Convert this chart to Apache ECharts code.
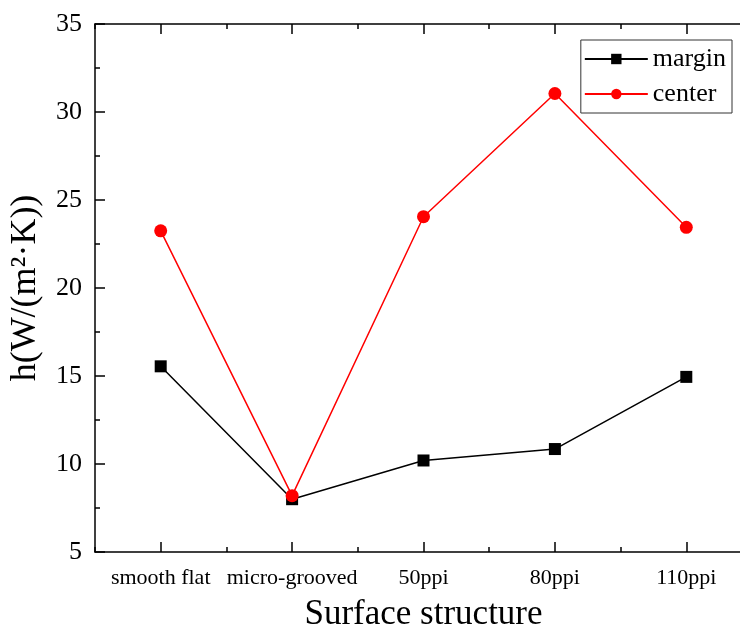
<!DOCTYPE html>
<html>
<head>
<meta charset="utf-8">
<script src="https://cdn.jsdelivr.net/npm/echarts@6/dist/echarts.min.js"></script>
<style>
  html, body { margin: 0; padding: 0; background: #fff; }
  #chart { width: 740px; height: 632px; }
</style>
</head>
<body>
<div id="chart"></div>
<script>
var categories = ["smooth flat", "micro-grooved", "50ppi", "80ppi", "110ppi"];
var marginValues = [15.55, 8.0, 10.2, 10.85, 14.95];
var centerValues = [23.25, 8.2, 24.05, 31.05, 23.45];
var yTicks = { min: 5, max: 35, interval: 5 };

var serif = "Liberation Serif";
var myChart = echarts.init(document.getElementById("chart"));

function catAxis(pos, major, showLabel) {
  return {
    type: "category",
    data: categories,
    position: pos,
    boundaryGap: true,
    axisLine: { show: major, lineStyle: { color: "#000", width: 1.5 } },
    axisTick: {
      show: true,
      inside: true,
      alignWithLabel: major,
      interval: 0,
      length: major ? 10 : 5,
      lineStyle: { color: "#000", width: 1.5 }
    },
    axisLabel: {
      show: showLabel,
      interval: 0,
      color: "#000",
      fontFamily: serif,
      fontSize: 22,
      margin: 15
    },
    splitLine: { show: false }
  };
}

var bottomMain = catAxis("bottom", true, true);
bottomMain.name = "Surface structure";
bottomMain.nameLocation = "middle";
bottomMain.nameGap = 45;
bottomMain.nameTextStyle = { color: "#000", fontFamily: serif, fontSize: 35 };

myChart.setOption({
  backgroundColor: "#fff",
  animation: false,
  grid: { left: 95, top: 24, bottom: 80, right: -12, outerBoundsMode: "none", containLabel: false },
  legend: {
    right: 8,
    top: 40,
    orient: "vertical",
    borderColor: "#333",
    borderWidth: 1,
    borderRadius: 0,
    padding: [6, 6, 6, 3],
    itemGap: 9,
    itemWidth: 63,
    itemHeight: 13,
    textStyle: { color: "#000", fontFamily: serif, fontSize: 26 },
    data: ["margin", "center"]
  },
  xAxis: [
    bottomMain,
    catAxis("bottom", false, false),
    catAxis("top", true, false),
    catAxis("top", false, false)
  ],
  yAxis: {
    type: "value",
    min: yTicks.min,
    max: yTicks.max,
    interval: yTicks.interval,
    name: "h(W/(m²·K))",
    nameLocation: "middle",
    nameGap: 51,
    nameTextStyle: { color: "#000", fontFamily: serif, fontSize: 36 },
    axisLine: { show: true, lineStyle: { color: "#000", width: 1.5 } },
    axisTick: { show: true, inside: true, length: 10, lineStyle: { color: "#000", width: 1.5 } },
    minorTick: { show: true, splitNumber: 2, length: 5, lineStyle: { color: "#000", width: 1.5 } },
    axisLabel: { color: "#000", fontFamily: serif, fontSize: 26, margin: 13 },
    splitLine: { show: false }
  },
  series: [
    {
      name: "margin",
      type: "line",
      xAxisIndex: 0,
      data: marginValues,
      symbol: "rect",
      symbolSize: 12,
      lineStyle: { color: "#000", width: 1.5 },
      itemStyle: { color: "#000" }
    },
    {
      name: "center",
      type: "line",
      xAxisIndex: 0,
      data: centerValues,
      symbol: "circle",
      symbolSize: 13,
      lineStyle: { color: "#ff0000", width: 1.5 },
      itemStyle: { color: "#ff0000" }
    }
  ]
});
</script>
</body>
</html>
